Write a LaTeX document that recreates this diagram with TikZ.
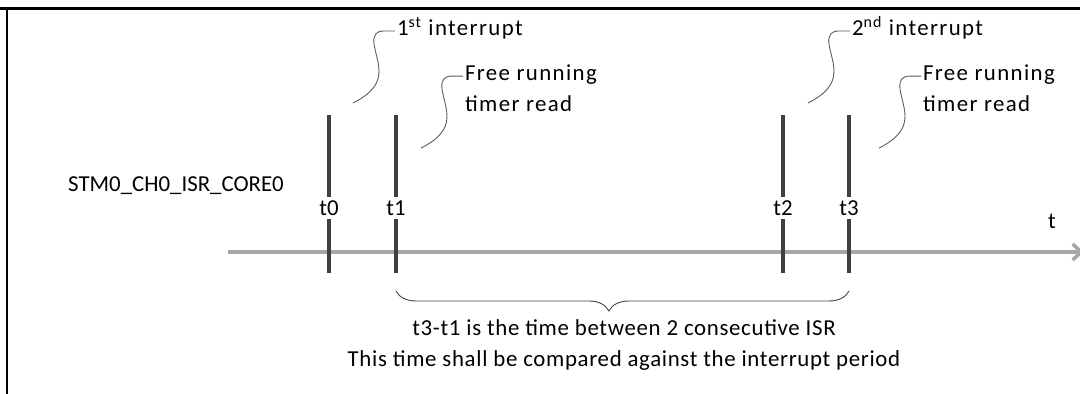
\documentclass[tikz,border=0pt]{standalone}
\usepackage{fontspec}
\setmainfont{Carlito}
\newfontfamily\notefont[LetterSpace=6]{Carlito}
\newfontfamily\captfont[LetterSpace=3]{Carlito}
\usetikzlibrary{positioning,arrows.meta,decorations.pathreplacing}

% curved pointer from a note back to its event
\newcommand{\drawleader}[1]{%
  \draw[leader] (#1) -- ++(-11,0)
    .. controls +(-8,0) and +(-1,-9) .. ++(-10,13)
    .. controls +(3,20) and +(38,-19) .. ++(-21,59);}

\begin{document}
\begin{tikzpicture}[
    x=0.02cm, y=-0.02cm,
    every node/.style={font=\fontsize{13}{17.5}\selectfont, inner sep=1pt},
    frame/.style={line width=1.7pt, black},
    axis/.style={line width=2pt, black!35, -{Straight Barb[length=5pt,width=9pt]}},
    tick/.style={line width=2pt, black!75},
    ticklbl/.style={fill=white, inner sep=2pt},
    note/.style={anchor=mid west, align=left,
                 font=\notefont\fontsize{13}{17.6}\selectfont},
    leader/.style={line width=0.5pt, black!65},
    gap/.style={decorate, decoration={brace, mirror, amplitude=0.4cm, aspect=0.47},
                line width=0.5pt, black!75}
  ]
    \useasboundingbox (0,0) rectangle (1080,394);

    % Frame
    \draw[frame] (0,9) -- (1080,9);
    \draw[frame] (7,9) -- (7,394);

    % Time axis
    \coordinate (ax0) at (228,252);
    \coordinate (ax1) at (1084,252);
    \draw[axis] (ax0) -- (ax1);
    \node (tlab) at (1052,221) {t};
    \node (isr) at (176,186) {STM0\_CH0\_ISR\_CORE0};

    % Event ticks
    \coordinate (t0a) at (329,115); \coordinate (t0b) at (329,273);
    \coordinate (t1a) at (396,115); \coordinate (t1b) at (396,273);
    \coordinate (t2a) at (783,115); \coordinate (t2b) at (783,273);
    \coordinate (t3a) at (849,115); \coordinate (t3b) at (849,273);
    \draw[tick] (t0a) -- (t0b);
    \draw[tick] (t1a) -- (t1b);
    \draw[tick] (t2a) -- (t2b);
    \draw[tick] (t3a) -- (t3b);
    \node[ticklbl] (l0) at (329,208) {t0};
    \node[ticklbl] (l1) at (396,208) {t1};
    \node[ticklbl] (l2) at (783,208) {t2};
    \node[ticklbl] (l3) at (849,208) {t3};

    % Notes with their pointers (two-line notes hang from their first line)
    \node[note] (int1) at (395,31) {1\textsuperscript{st} interrupt};
    \node[note] (frt1) at (463,107) {Free running\\timer read};
    \node[note] (int2) at (850,31) {2\textsuperscript{nd} interrupt};
    \node[note] (frt2) at (921,107) {Free running\\timer read};
    \drawleader{int1.mid west}
    \drawleader{[yshift=17.6pt]frt1.mid west}
    \drawleader{int2.mid west}
    \drawleader{[yshift=17.6pt]frt2.mid west}

    % Interval between the two reads
    \draw[gap] ([yshift=-0.36cm]t1b) -- ([yshift=-0.36cm]t3b);
    \node[align=center, font=\captfont\fontsize{13}{17.6}\selectfont] (period)
      at (624,345)
      {t3-t1 is the time between 2 consecutive ISR\\
       This time shall be compared against the interrupt period};
\end{tikzpicture}
\end{document}
